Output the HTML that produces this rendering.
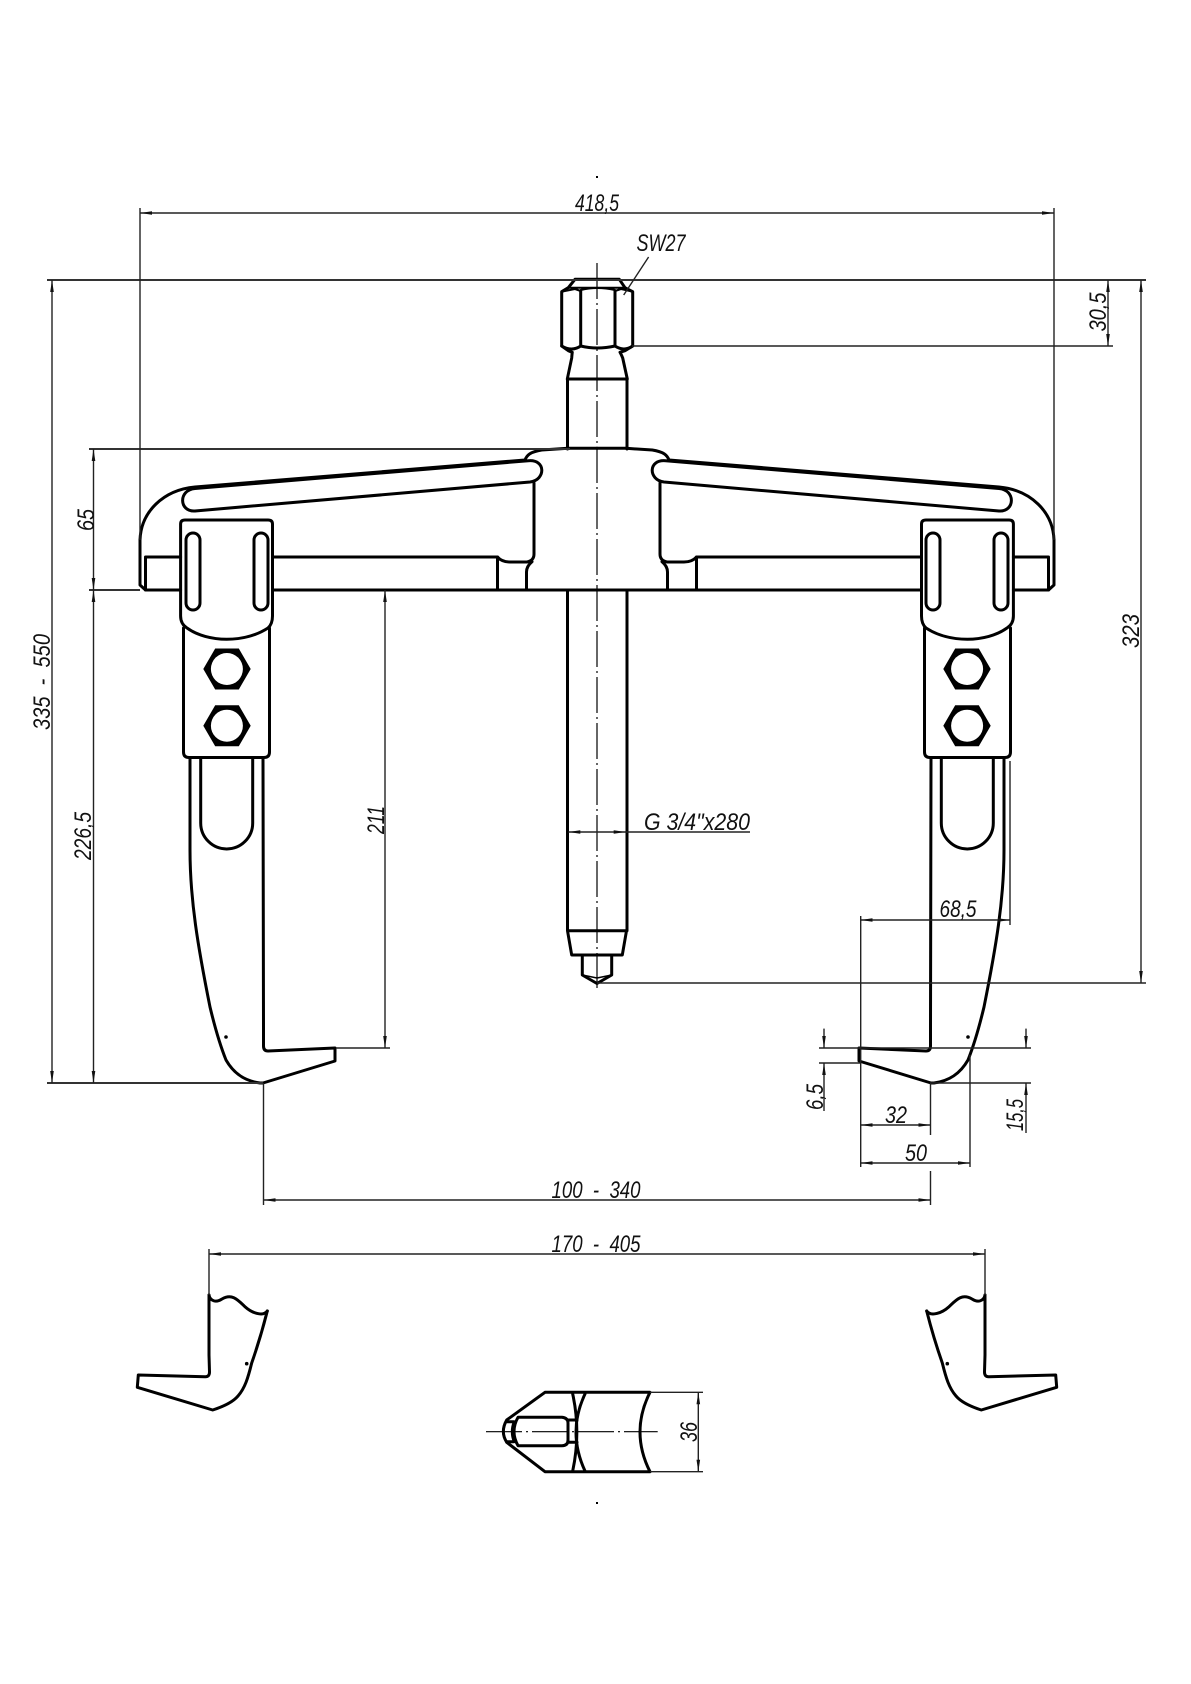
<!DOCTYPE html>
<html>
<head>
<meta charset="utf-8">
<style>
html,body{margin:0;padding:0;background:#fff;width:1191px;height:1684px;overflow:hidden}
svg{display:block}
.m{fill:none;stroke:#000;stroke-width:3;stroke-linejoin:round;stroke-linecap:round}
.n{fill:none;stroke:#000;stroke-width:2.4;stroke-linejoin:round;stroke-linecap:round}
.d{fill:none;stroke:#222;stroke-width:1.4}
.h{fill:none;stroke:#333;stroke-width:2}
.c{fill:none;stroke:#000;stroke-width:1.2;stroke-dasharray:36 4 2 4}
text{font-family:"Liberation Sans",sans-serif;font-style:italic;font-size:24px;fill:#111;text-anchor:middle}
</style>
</head>
<body>
<svg width="1191" height="1684" viewBox="0 0 1191 1684" xmlns="http://www.w3.org/2000/svg">
<defs>
<marker id="a" markerUnits="userSpaceOnUse" markerWidth="13" markerHeight="6" refX="12" refY="3" orient="auto-start-reverse"><path d="M0,1.2 L12,3 L0,4.8 Z" fill="#111"/></marker>
<g id="arm">
<path class="m" d="M140,540 V585 L145.5,590 H180.6 M272.5,590 H597"/>
<path class="m" d="M140,540 C141,512 163,490 195,487 L525,460 C527,455 530,452 541.700,450 L568,448.300 H597"/>
<path class="m" d="M195,488.500 L528.300,460.700 C546,459 546,480 530,482 L195,511 C179,512 178,490 195,488.500 Z"/>
<path class="m" d="M145.500,590 V557 H180.600 M272.500,557 H497.500 C501,561 505,562 510,562 H527 C532,561 534,558 534,554 V483"/>
<path class="m" d="M497.500,557 V590 M532,561.700 C528,565 526.500,568 526.500,572 V590"/>
<path class="m" d="M180.600,524 Q180.600,520 185,520 H268 Q272.500,520 272.500,524 V616 Q272.500,624 268,628 C245,643 208,643 187,628 Q180.600,624 180.600,616 Z"/>
<rect class="m" x="186" y="533" width="14" height="77" rx="7"/>
<rect class="m" x="254" y="533" width="14" height="77" rx="7"/>
<path class="m" d="M183.500,628 V752 Q183.500,757.500 189,757.500 H264 Q269.500,757.500 269.500,752 V628"/>
<path d="M203.300,669 L215.200,648.500 H238.800 L250.700,669 L238.800,689.500 H215.200 Z M203.300,725.700 L215.200,705.200 H238.800 L250.700,725.700 L238.800,746.200 H215.200 Z" fill="#000"/>
<circle cx="226.900" cy="669" r="16" fill="#fff"/>
<circle cx="226.900" cy="725.700" r="16" fill="#fff"/>
<path class="m" d="M190,758 V850 C190,900 198,947 210,1007 C216,1032 222,1050 226,1060 C234,1074 245,1081 260,1083 L263,1083 L335,1061 V1048 L268,1051 Q263.500,1051 263.500,1046 V1027 L263,758"/>
<path class="m" d="M200.700,758 V823 A26,26 0 0 0 252.700,823 V758"/>
<circle cx="226" cy="1037" r="1.800" fill="#000"/>
</g>
<g id="low">
<path class="m" d="M209,1295 V1355 L209.500,1372 Q209.500,1377 205,1376.700 L138.300,1375 L137.300,1387.300 L212.700,1410 C222,1407 233,1402 238,1396 C245,1388 248,1378 251.700,1363 C258,1345 263,1328 267.300,1311"/>
<path class="m" d="M209,1295 C210,1301 216,1303 222,1299 C232,1293 238,1300 245,1306.700 C252,1313 263,1317 267.300,1311"/>
<circle cx="246.700" cy="1363.700" r="1.800" fill="#000"/>
</g>
</defs>

<use href="#arm"/>
<use href="#arm" transform="translate(1194,0) scale(-1,1)"/>
<use href="#low"/>
<use href="#low" transform="translate(1194,0) scale(-1,1)"/>

<!-- centre screw -->
<path class="m" d="M567.500,449 V379 H627 V449"/>
<path class="m" d="M567.300,379 L571.700,358 Q572,354 572.300,352.300 L568.300,350.700 L561.700,346 V291.700 L568.300,287.700 L575,279.300 H619.300 L625,287.700 L632.700,291.700 V346 L625,350.700 L620,352.300 Q621,354 622.700,358 L627.300,379"/>
<path class="m" d="M580.700,291 V346 M615,291 V346 M561.700,346 Q572,352 580.700,346 Q597,350 615,346 Q624,352 632.700,346"/>
<path class="n" d="M561.700,291.700 L575,289 L580.700,291 M568.300,287.700 H625 M615,291 L621,289 L632.700,291.700 M580.700,290 Q597,286 615,290" style="stroke-width:2"/>
<path class="m" d="M567.500,590 V930.700 H627 V590 M567.500,930.700 L571.700,955 H622.300 L626.500,930.700"/>
<path class="m" d="M582.300,955 V975 L597,983.500 L611.700,975 V955"/>
<path class="n" d="M582.300,975 L597,978 L611.700,975" style="stroke-width:1.500"/>
<line class="c" x1="597" y1="263" x2="597" y2="988"/>
<rect x="596" y="176" width="2" height="2" fill="#000"/>
<rect x="596" y="1502" width="2" height="2" fill="#000"/>

<!-- front view -->
<path class="m" d="M650,1392.300 H545 L506.700,1420 Q500,1431.700 506.700,1442.300 L545,1471.700 H650 Q630,1432 650,1392.300 Z"/>
<path class="m" d="M518,1417.300 H562 Q568,1418 568,1423 V1440 Q568,1445.700 562,1445.700 H518 Q510,1431.500 518,1417.300 Z"/>
<path class="m" d="M506.700,1421.700 H514 M506.700,1441.700 H514 M568,1420 H577 M568,1442.300 H577"/>
<path class="n" d="M514,1421.700 Q510,1431.700 514,1441.700"/>
<path class="m" d="M572.700,1394 Q581,1432 572.700,1471 M585,1394 Q567,1432 585,1471"/>
<line class="c" x1="486" y1="1431.700" x2="657.700" y2="1431.700"/>

<!-- extension lines -->
<path class="h" d="M47,280 H1146 M89,449 H570 M89,590 H140 M47,1083 H263"/>
<path class="d" d="M140,208 V540 M1054,208 V540 M632,346 H1113 M336,1048 H390 M597,983 H1146"/>
<path class="d" d="M263.500,1083 V1205 M930.500,1083 V1135 M930.500,1171 V1205 M1010,761 V925 M860.700,916 V1167 M819,1048 H1031 M819,1063 H860 M930,1083 H1031 M970,1055 V1167"/>
<path class="d" d="M209,1249 V1295 M985,1249 V1295 M650,1392.300 H703 M650,1471.700 H703"/>
<path class="d" d="M648.600,257 L623.700,295"/>

<!-- dimension lines -->
<g class="d">
<line x1="140" y1="213" x2="1054" y2="213" marker-start="url(#a)" marker-end="url(#a)"/>
<line x1="52" y1="280" x2="52" y2="1083" marker-start="url(#a)" marker-end="url(#a)"/>
<line x1="93.500" y1="449" x2="93.500" y2="590" marker-start="url(#a)" marker-end="url(#a)"/>
<line x1="93.500" y1="590" x2="93.500" y2="1083" marker-start="url(#a)" marker-end="url(#a)"/>
<line x1="385" y1="590" x2="385" y2="1048" marker-start="url(#a)" marker-end="url(#a)"/>
<line x1="1108" y1="280" x2="1108" y2="346" marker-start="url(#a)" marker-end="url(#a)"/>
<line x1="1141" y1="280" x2="1141" y2="983" marker-start="url(#a)" marker-end="url(#a)"/>
<line x1="860.700" y1="920" x2="1010" y2="920" marker-start="url(#a)" marker-end="url(#a)"/>
<line x1="860.700" y1="1125" x2="930.500" y2="1125" marker-start="url(#a)" marker-end="url(#a)"/>
<line x1="860.700" y1="1163" x2="970" y2="1163" marker-start="url(#a)" marker-end="url(#a)"/>
<line x1="263.500" y1="1200" x2="930.500" y2="1200" marker-start="url(#a)" marker-end="url(#a)"/>
<line x1="209" y1="1254" x2="985" y2="1254" marker-start="url(#a)" marker-end="url(#a)"/>
<line x1="698.300" y1="1392.300" x2="698.300" y2="1471.700" marker-start="url(#a)" marker-end="url(#a)"/>
<line x1="568.300" y1="832" x2="625.700" y2="832" marker-start="url(#a)" marker-end="url(#a)"/>
<line x1="625.700" y1="832" x2="750" y2="832"/>
<line x1="824" y1="1028.600" x2="824" y2="1048" marker-end="url(#a)"/>
<line x1="824" y1="1111" x2="824" y2="1063" marker-end="url(#a)"/>
<line x1="1026" y1="1028.600" x2="1026" y2="1048" marker-end="url(#a)"/>
<line x1="1026" y1="1133" x2="1026" y2="1083" marker-end="url(#a)"/>
</g>

<!-- labels -->
<text x="597" y="211" textLength="44" lengthAdjust="spacingAndGlyphs">418,5</text>
<text x="661" y="251" textLength="49" lengthAdjust="spacingAndGlyphs">SW27</text>
<text x="697" y="830" textLength="106" lengthAdjust="spacingAndGlyphs">G 3/4"x280</text>
<text x="958" y="917" textLength="37" lengthAdjust="spacingAndGlyphs">68,5</text>
<text x="896" y="1123" textLength="22" lengthAdjust="spacingAndGlyphs">32</text>
<text x="916" y="1161" textLength="22" lengthAdjust="spacingAndGlyphs">50</text>
<text x="596" y="1198" textLength="89" lengthAdjust="spacingAndGlyphs">100&#160;&#160;-&#160;&#160;340</text>
<text x="596" y="1252" textLength="89" lengthAdjust="spacingAndGlyphs">170&#160;&#160;-&#160;&#160;405</text>
<text transform="translate(41,682) rotate(-90)" y="9" textLength="96" lengthAdjust="spacingAndGlyphs">335&#160;&#160;-&#160;&#160;550</text>
<text transform="translate(85,520) rotate(-90)" y="9" textLength="22" lengthAdjust="spacingAndGlyphs">65</text>
<text transform="translate(82,836) rotate(-90)" y="9" textLength="48" lengthAdjust="spacingAndGlyphs">226,5</text>
<text transform="translate(375,820) rotate(-90)" y="9" textLength="28" lengthAdjust="spacingAndGlyphs">211</text>
<text transform="translate(1097,312) rotate(-90)" y="9" textLength="39" lengthAdjust="spacingAndGlyphs">30,5</text>
<text transform="translate(1130,631) rotate(-90)" y="9" textLength="34" lengthAdjust="spacingAndGlyphs">323</text>
<text transform="translate(814,1097) rotate(-90)" y="9" textLength="26" lengthAdjust="spacingAndGlyphs">6,5</text>
<text transform="translate(1014,1115) rotate(-90)" y="9" textLength="32" lengthAdjust="spacingAndGlyphs">15,5</text>
<text transform="translate(688,1432) rotate(-90)" y="9" textLength="20" lengthAdjust="spacingAndGlyphs">36</text>
</svg>
</body>
</html>
